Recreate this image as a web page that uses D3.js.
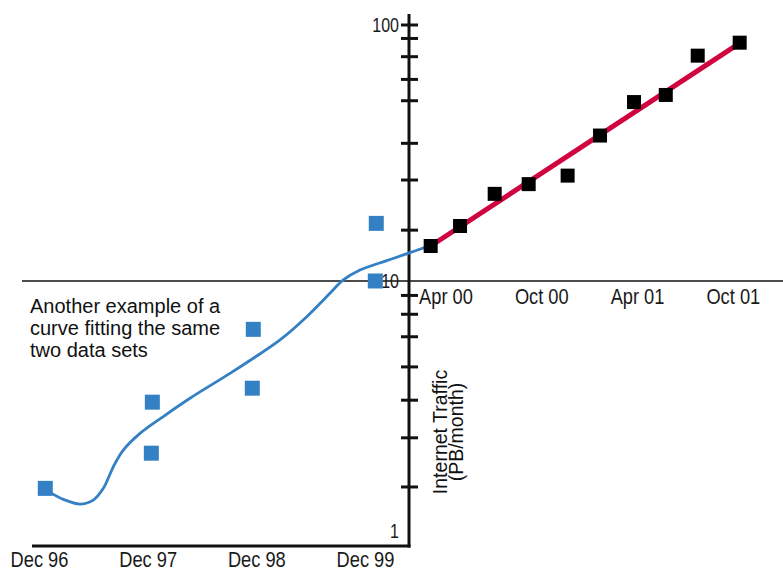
<!DOCTYPE html>
<html>
<head>
<meta charset="utf-8">
<script src="https://cdn.jsdelivr.net/npm/d3@7/dist/d3.min.js"></script>
<style>
  html, body { margin: 0; padding: 0; background: #fff; }
  svg { display: block; }
  .tick-label { font-family: "Liberation Sans", Arial, sans-serif; fill: #1a1a1a; }
  .note { font-family: "Liberation Sans", Arial, sans-serif; fill: #111; }
</style>
</head>
<body>
<svg id="chart" width="783" height="580"></svg>
<script>
// ---- Data ----
// Left panel: x in months since Dec 1996, y = traffic (log scale 1..10)
const leftTickMonths = [0, 12, 24, 36];
const leftTickLabels = ["Dec 96", "Dec 97", "Dec 98", "Dec 99"];
const bluePointMonths = [0.64, 12.46, 12.35, 23.61, 23.5, 37.19, 37.08];
const bluePointValues = [1.65, 3.49, 2.24, 6.57, 3.94, 16.5, 10.0];
// Fitted curve (traced)
const curveMonths = [1.35, 2.63, 4.47, 5.94, 7.05, 8.15, 9.25, 11.1, 13.67, 16.62, 21.04, 23.61, 26.56, 29.51, 32.08, 33.55, 35.39, 38.34, 40.91, 42.57];
const curveValues = [1.58, 1.50, 1.44, 1.49, 1.65, 1.99, 2.30, 2.66, 3.08, 3.61, 4.48, 5.11, 5.99, 7.33, 8.99, 10.09, 11.0, 11.93, 12.79, 13.40];

// Right panel: x in months since Apr 2000, y = traffic (log scale 10..100)
const rightTickMonths = [0, 6, 12, 18];
const rightTickLabels = ["Apr 00", "Oct 00", "Apr 01", "Oct 01"];
const blackPointMonths = [-0.96, 0.88, 3.05, 5.18, 7.62, 9.65, 11.78, 13.77, 15.77, 18.4];
const blackPointValues = [13.7, 16.4, 21.9, 23.9, 25.8, 37.0, 50.0, 53.3, 75.9, 85.3];
const fitMonths = [-0.96, 18.4];
const fitValues = [13.7, 85.0];

// Y axis minor ticks, as drawn in the original
const leftMinorTicks = [1.67, 2.56, 3.55, 4.74, 6.16, 7.49, 8.82];
const rightMinorTicks = [15.8, 24.8, 34.5, 50.6, 61.3, 75.2, 88.6, 100];
const yTickLabels = [{v: 1, t: "1"}, {v: 10, t: "10"}, {v: 100, t: "100"}];

const annotation = ["Another example of a", "curve fitting the same", "two data sets"];
const yTitle = ["Internet Traffic", "(PB/month)"];

// ---- Scales ----
const axisX = 409;
const xL = d3.scaleLinear().domain([0, 36]).range([39.5, 365.5]);
const yL = d3.scaleLog().domain([1, 10]).range([546, 281]);
const xR = d3.scaleLinear().domain([0, 18]).range([446, 733.3]);
const yR = d3.scaleLog().domain([10, 100]).range([281, 25]);

const svg = d3.select("#chart");

// Right panel baseline (thin)
svg.append("line")
  .attr("x1", 22).attr("x2", 783)
  .attr("y1", yR(10)).attr("y2", yR(10))
  .attr("stroke", "#111").attr("stroke-width", 1.6);

// Left panel baseline (thick)
svg.append("line")
  .attr("x1", 32).attr("x2", axisX + 1.5)
  .attr("y1", yL(1)).attr("y2", yL(1))
  .attr("stroke", "#111").attr("stroke-width", 3);

// Vertical axis
svg.append("line")
  .attr("x1", axisX).attr("x2", axisX)
  .attr("y1", 14).attr("y2", yL(1) + 1.5)
  .attr("stroke", "#111").attr("stroke-width", 3);

// Y ticks
svg.selectAll(".ltick").data(leftMinorTicks).join("line")
  .attr("x1", axisX - 8).attr("x2", axisX + 9)
  .attr("y1", d => yL(d)).attr("y2", d => yL(d))
  .attr("stroke", "#111").attr("stroke-width", 3);
svg.selectAll(".rtick").data(rightMinorTicks).join("line")
  .attr("x1", axisX - 8).attr("x2", axisX + 9)
  .attr("y1", d => yR(d)).attr("y2", d => yR(d))
  .attr("stroke", "#111").attr("stroke-width", 3);

// Y tick labels (condensed look via horizontal scaling)
svg.selectAll(".ylab").data(yTickLabels).join("text")
  .attr("class", "tick-label")
  .attr("transform", d => {
    const y = d.v === 1 ? yL(1) - 8 : (d.v === 10 ? yL(10) + 7 : yR(100) + 7);
    return `translate(${axisX - 10},${y}) scale(0.8,1)`;
  })
  .attr("text-anchor", "end")
  .attr("font-size", 20)
  .text(d => d.t);

// X labels left
svg.selectAll(".xlabL").data(leftTickMonths).join("text")
  .attr("class", "tick-label")
  .attr("transform", d => `translate(${xL(d)},567) scale(0.85,1)`)
  .attr("text-anchor", "middle").attr("font-size", 21.5)
  .text((d, i) => leftTickLabels[i]);

// X labels right
svg.selectAll(".xlabR").data(rightTickMonths).join("text")
  .attr("class", "tick-label")
  .attr("transform", d => `translate(${xR(d)},304) scale(0.85,1)`)
  .attr("text-anchor", "middle").attr("font-size", 21.5)
  .text((d, i) => rightTickLabels[i]);

// Annotation
svg.append("text").attr("class", "note").attr("font-size", 20)
  .selectAll("tspan").data(annotation).join("tspan")
  .attr("x", 30).attr("y", (d, i) => 313 + i * 22)
  .text(d => d);

// Y title (rotated)
const titleG = svg.append("g").attr("transform", "translate(0,432) rotate(-90)");
titleG.selectAll("text").data(yTitle).join("text")
  .attr("class", "note").attr("font-size", 19.5)
  .attr("text-anchor", "middle")
  .attr("x", 0).attr("y", (d, i) => 447 + i * 16)
  .text(d => d);

// Fit line (red)
const fitLine = d3.line().x(d => xR(d[0])).y(d => yR(d[1]));
svg.append("path")
  .datum(fitMonths.map((m, i) => [m, fitValues[i]]))
  .attr("d", fitLine)
  .attr("fill", "none").attr("stroke", "#d0043f").attr("stroke-width", 5);

// Blue curve
const curveLine = d3.line().x(d => xL(d[0])).y(d => yL(d[1])).curve(d3.curveCatmullRom.alpha(0.5));
svg.append("path")
  .datum(curveMonths.map((m, i) => [m, curveValues[i]]))
  .attr("d", curveLine)
  .attr("fill", "none").attr("stroke", "#3480c4").attr("stroke-width", 2.8);

// Blue squares
const bs = 15;
svg.selectAll(".bsq").data(bluePointMonths.map((m, i) => [m, bluePointValues[i]])).join("rect")
  .attr("x", d => xL(d[0]) - bs / 2).attr("y", d => yL(d[1]) - bs / 2)
  .attr("width", bs).attr("height", bs)
  .attr("fill", "#3480c4");

// Black squares
const ks = 14;
svg.selectAll(".ksq").data(blackPointMonths.map((m, i) => [m, blackPointValues[i]])).join("rect")
  .attr("x", d => xR(d[0]) - ks / 2).attr("y", d => yR(d[1]) - ks / 2)
  .attr("width", ks).attr("height", ks)
  .attr("fill", "#000");
</script>
</body>
</html>
